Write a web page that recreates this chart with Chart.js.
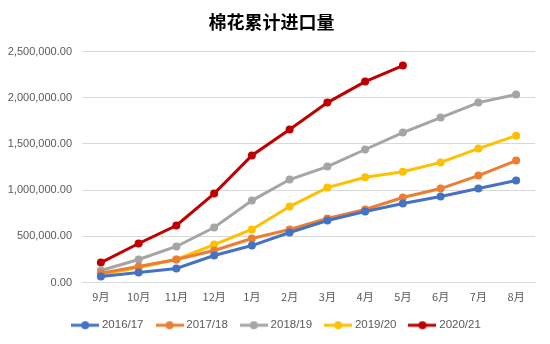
<!DOCTYPE html>
<html><head><meta charset="utf-8">
<script src="https://cdn.jsdelivr.net/npm/chart.js@4/dist/chart.umd.min.js"></script>
<style>html,body{margin:0;padding:0;background:#fff}#wrap{width:550px;height:344px}</style>
</head><body><div id="wrap"><canvas id="c" width="550" height="344"></canvas></div>
<script>
const categories = ['9月','10月','11月','12月','1月','2月','3月','4月','5月','6月','7月','8月'];
const s2016 = [65000,108000,152000,292000,400000,541000,671000,768000,855000,931000,1017000,1104000];
const s2017 = [100000,173000,249000,346000,476000,574000,693000,790000,920000,1017000,1158000,1320000];
const s2018 = [130000,249000,390000,595000,887000,1115000,1255000,1440000,1623000,1786000,1948000,2035000];
const s2019 = [87000,162000,249000,411000,574000,822000,1028000,1140000,1200000,1300000,1450000,1590000];
const s2020 = [216000,422000,617000,963000,1375000,1656000,1948000,2175000,2349000];
const seriesNames = ['2016/17','2017/18','2018/19','2019/20','2020/21'];
const colors = ['#4472C4','#ED7D31','#A5A5A5','#FFC000','#C00000'];
const yTicks = [0,500000,1000000,1500000,2000000,2500000];

function legendIcon(color){
  const cv=document.createElement('canvas');cv.width=28;cv.height=10;
  const g=cv.getContext('2d');
  g.strokeStyle=color;g.lineWidth=3;g.beginPath();g.moveTo(0,5);g.lineTo(28,5);g.stroke();
  g.fillStyle=color;g.beginPath();g.arc(14,5,4,0,Math.PI*2);g.fill();
  return cv;
}
const all=[s2016,s2017,s2018,s2019,s2020];
const datasets=all.map((d,i)=>({label:seriesNames[i],data:d,borderColor:colors[i],backgroundColor:colors[i],
  borderWidth:3,pointRadius:4,pointBorderWidth:0,pointHoverRadius:4,pointBackgroundColor:colors[i],pointBorderColor:colors[i],tension:0,fill:false}));
const fmt=v=>v.toLocaleString('en-US',{minimumFractionDigits:2,maximumFractionDigits:2});
const shiftLegend={id:'shiftLegend',afterLayout(chart){if(chart.legend){chart.legend.left+=6;chart.legend.right+=6;}}};
new Chart(document.getElementById('c'),{
  type:'line',
  data:{labels:categories,datasets:datasets},
  plugins:[shiftLegend],
  options:{
    responsive:false,animation:false,devicePixelRatio:1,
    layout:{padding:{left:8,right:15,top:0,bottom:3}},
    plugins:{
      title:{display:true,text:'棉花累计进口量',font:{family:'Noto Sans CJK SC',size:18,weight:'bold'},color:'#000',padding:{top:11,bottom:19}},
      legend:{position:'bottom',labels:{usePointStyle:true,pointStyleWidth:22,font:{family:'Liberation Sans, sans-serif',size:11.5},color:'#595959',boxHeight:10,padding:15,
        generateLabels:(chart)=>chart.data.datasets.map((ds,i)=>({text:ds.label,fillStyle:ds.borderColor,strokeStyle:ds.borderColor,fontColor:'#595959',pointStyle:legendIcon(ds.borderColor),datasetIndex:i,hidden:false,lineWidth:0}))}},
      tooltip:{enabled:false}
    },
    scales:{
      x:{offset:true,grid:{display:false,drawTicks:false},border:{color:'#D9D9D9',width:1},
        ticks:{color:'#595959',font:{family:'Noto Sans CJK SC',size:11},padding:8},
        afterFit:(ax)=>{ax.height=22;}},
      y:{min:0,max:2500000,afterBuildTicks:(ax)=>{ax.ticks=yTicks.map(v=>({value:v}));},
        grid:{color:'#D9D9D9',drawTicks:false},border:{display:false},
        ticks:{color:'#595959',font:{family:'Liberation Sans, sans-serif',size:11},padding:10,callback:v=>fmt(v)},
        afterFit:(ax)=>{ax.width=74;}}
    }
  }
});
</script></body></html>
